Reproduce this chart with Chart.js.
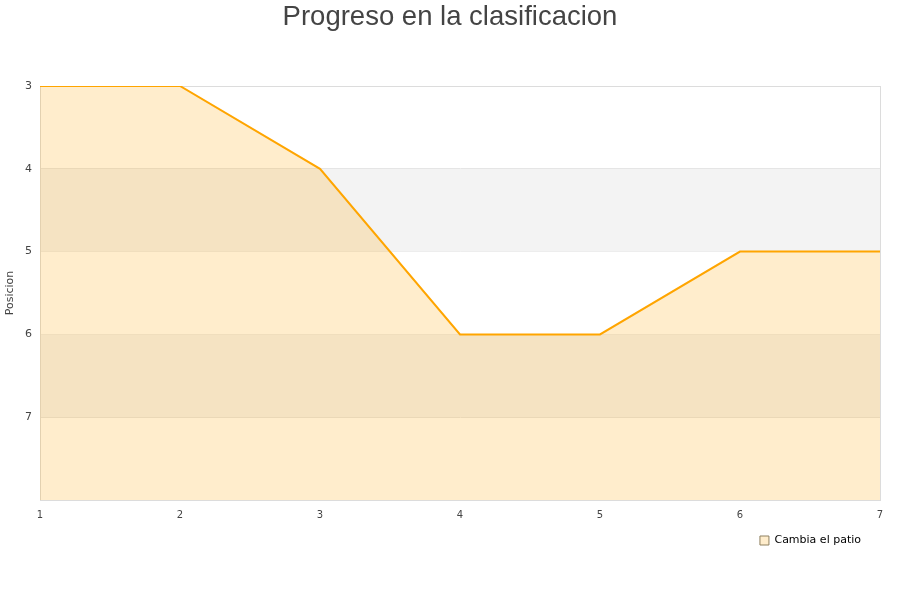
<!DOCTYPE html>
<html>
<head>
<meta charset="utf-8">
<script src="https://cdn.jsdelivr.net/npm/chart.js@4/dist/chart.umd.min.js"></script>
<style>
  html, body { margin: 0; padding: 0; background: #fff; }
  #wrap { width: 900px; height: 600px; }
</style>
</head>
<body>
<div id="wrap"><canvas id="chart"></canvas></div>
<script>
const jornadas = ['1', '2', '3', '4', '5', '6', '7'];
const posiciones = [3, 3, 4, 6, 6, 5, 5];
const bandas = [[4, 5], [6, 7]];

// shaded horizontal bands + box border behind the line
const bandPlugin = {
  id: 'bands',
  afterLayout(chart) {
    // title is centred on the whole canvas, legend sits a bit further in
    chart.titleBlock.left = 0;
    chart.titleBlock.right = chart.width;
    chart.legend.right -= 6;
  },
  beforeDatasetsDraw(chart) {
    const { ctx, chartArea: a, scales: { y } } = chart;
    ctx.save();
    ctx.fillStyle = '#f3f3f3';
    bandas.forEach(([from, to]) => {
      const y1 = y.getPixelForValue(from);
      const y2 = y.getPixelForValue(to);
      ctx.fillRect(a.left, y1, a.right - a.left, y2 - y1);
    });
    ctx.strokeStyle = '#dcdcdc';
    ctx.lineWidth = 1;
    ctx.strokeRect(a.left + 0.5, a.top + 0.5, a.right - a.left, a.bottom - a.top);
    ctx.restore();
  }
};

new Chart(document.getElementById('chart'), {
  type: 'line',
  data: {
    labels: jornadas,
    datasets: [{
      label: 'Cambia el patio',
      data: posiciones,
      borderColor: '#FFA500',
      backgroundColor: 'rgba(255,165,0,0.2)',
      borderWidth: 2,
      pointRadius: 0,
      tension: 0,
      fill: 'start',
    }],
  },
  options: {
    responsive: true,
    maintainAspectRatio: false,
    animation: false,
    layout: { padding: { left: 0, right: 20, top: 0, bottom: 44 } },
    plugins: {
      title: {
        display: true,
        text: 'Progreso en la clasificacion',
        color: '#444',
        font: { family: 'Liberation Sans', size: 27.5, weight: 'normal' },
        padding: { top: 1, bottom: 52 },
      },
      legend: {
        position: 'bottom',
        align: 'end',
        labels: {
          boxWidth: 9,
          boxHeight: 9,
          padding: 13,
          color: '#000',
          font: { family: 'DejaVu Sans', size: 11 },
          generateLabels: chart => chart.data.datasets.map((ds, i) => ({
            text: ds.label,
            fillStyle: '#FFEDCC',
            strokeStyle: '#8f8160',
            lineWidth: 1,
            fontColor: '#000',
            datasetIndex: i,
          })),
        },
      },
      tooltip: { enabled: false },
    },
    scales: {
      x: {
        offset: false,
        grid: { display: false },
        border: { color: '#dcdcdc' },
        ticks: { color: '#444', font: { family: 'DejaVu Sans', size: 10 }, maxRotation: 0, padding: 1 },
      },
      y: {
        reverse: true,
        min: 3,
        max: 8,
        afterFit: s => { s.width = 40; },
        title: { display: true, text: 'Posicion', color: '#444', font: { family: 'DejaVu Sans', size: 11 } },
        grid: { color: '#e2e2e2', drawTicks: false },
        border: { color: '#dcdcdc' },
        ticks: {
          stepSize: 1,
          color: '#444',
          padding: 8,
          font: { family: 'DejaVu Sans', size: 11 },
          callback: v => (v === 8 ? '' : v),
        },
      },
    },
  },
  plugins: [bandPlugin],
});
</script>
</body>
</html>
